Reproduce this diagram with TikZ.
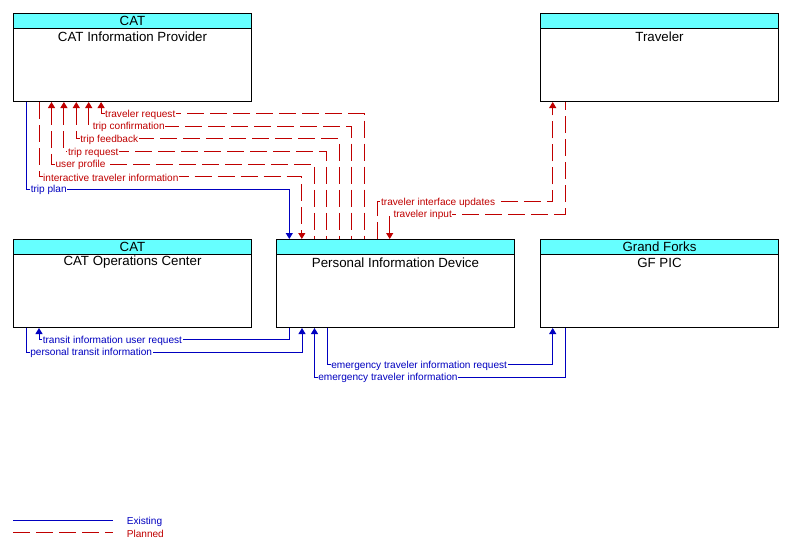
\documentclass[tikz,border=0pt]{standalone}
\usepackage{fontspec}
\setmainfont{Liberation Sans}
\usetikzlibrary{arrows.meta}

\definecolor{hdrcyan}{RGB}{102,255,255}
\definecolor{existblue}{RGB}{0,0,192}
\definecolor{planred}{RGB}{192,0,0}

\begin{document}
\begin{tikzpicture}[x=1pt,y=-1pt,
    font=\fontsize{13.3}{15}\selectfont,
    box/.style={draw, line width=1pt, anchor=north west, minimum width=238pt, minimum height=88pt, inner sep=0pt},
    existing/.style={existblue, line width=1pt},
    planned/.style={planred, line width=1pt, dash pattern=on 17pt off 6pt},
    lbl/.style={fill=white, anchor=west, inner sep=0.6pt, yshift=-1pt, font=\fontsize{10.1}{11}\selectfont},
    >={Triangle[width=7pt,length=6pt]}]

\useasboundingbox (0,0) rectangle (789,552);

% the elements
\foreach \n/\x/\y/\head/\title in {ip/13/13/CAT/CAT Information Provider, trav/540/13//Traveler,
    ops/13/239/CAT/CAT Operations Center, pid/276/239//Personal Information Device, gf/540/239/Grand Forks/GF PIC}
{
    \node[box] (\n) at (\x,\y) {};
    \draw[line width=1pt, fill=hdrcyan] (\n.north west) rectangle ++(238,15);
    \node (\n-head) at ([yshift=-7.5pt]\n.north) {\head};
    \node (\n-title) at ([yshift=-23.5pt]\n.north) {\title};
}

% CAT Information Provider <-> Personal Information Device
\foreach \xa/\ya/\xb/\lbl/\kind/\tips [count=\i] in {26.7/189/289.3/trip plan/existing/->,
    39.1/176.5/301.8/interactive traveler information/planned/->,
    51.5/164/314.3/user profile/planned/<-,
    63.9/151.4/326.8/trip request/planned/<-,
    76.3/138.9/339.3/trip feedback/planned/<-,
    88.7/126.3/351.8/trip confirmation/planned/<-,
    101.1/113.7/364.3/traveler request/planned/<-}
{
    \draw[\kind,\tips] (ip.south -| \xa,0) -- (\xa,\ya) -- (\xb,\ya) -- (pid.north -| \xb,0);
    \node[\kind,lbl] (lab\i) at (\xa+3,\ya) {\lbl};
}

% Personal Information Device <-> Traveler
\draw[planned,->] (pid.north -| 377.3,0) -- (377.3,201.5) -- (552.7,201.5) -- (trav.south -| 552.7,0);
\node[planred,lbl] (lab-upd) at (380.3,201.5) {traveler interface updates};
\draw[planned,<-] (pid.north -| 389.7,0) -- (389.7,214) -- (565.3,214) -- (trav.south -| 565.3,0);
\node[planred,lbl] (lab-inp) at (392.7,214) {traveler input};

% CAT Operations Center <-> Personal Information Device
\draw[existing,->] (pid.south -| 289.3,0) -- (289.3,339.5) -- (39,339.5) -- (ops.south -| 39,0);
\node[existblue,lbl] (lab-req) at (42,339.5) {transit information user request};
\draw[existing,->] (ops.south -| 26.5,0) -- (26.5,352) -- (302,352) -- (pid.south -| 302,0);
\node[existblue,lbl] (lab-pti) at (29.5,352) {personal transit information};

% GF PIC <-> Personal Information Device
\draw[existing,->] (pid.south -| 327.5,0) -- (327.5,364.5) -- (552.7,364.5) -- (gf.south -| 552.7,0);
\node[existblue,lbl] (lab-etr) at (330.5,364.5) {emergency traveler information request};
\draw[existing,->] (gf.south -| 565.3,0) -- (565.3,377) -- (314.5,377) -- (pid.south -| 314.5,0);
\node[existblue,lbl] (lab-eti) at (317.5,377) {emergency traveler information};

% legend
\coordinate (ex-a) at (13,520.5);
\coordinate (ex-b) at (113,520.5);
\coordinate (pl-a) at (13,532.5);
\coordinate (pl-b) at (113,532.5);
\draw[existing] (ex-a) -- (ex-b);
\draw[planned] (pl-a) -- (pl-b);
\node[existblue,lbl] (leg-ex) at (126,520.5) {Existing};
\node[planred,lbl] (leg-pl) at (126,532.5) {Planned};

\end{tikzpicture}
\end{document}
